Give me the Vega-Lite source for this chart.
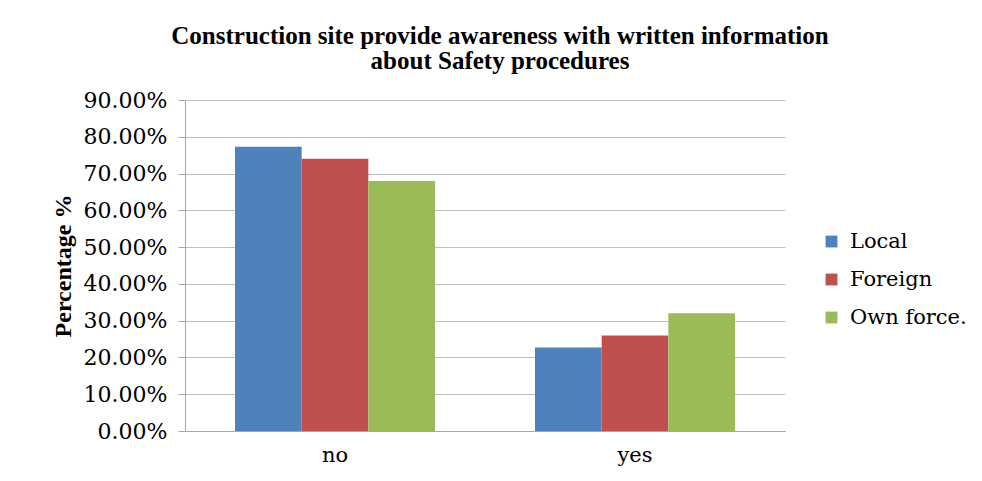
{
  "$schema": "https://vega.github.io/schema/vega-lite/v6.json",
  "autosize": {"type": "none"},
  "width": 600,
  "height": 331,
  "padding": {"left": 185, "top": 100, "right": 197, "bottom": 50},
  "background": "white",
  "title": {
    "text": ["Construction site provide awareness with written information", "about Safety procedures"],
    "font": "Liberation Serif",
    "fontSize": 25,
    "fontWeight": "bold",
    "color": "black",
    "lineHeight": 25,
    "anchor": "middle",
    "offset": 15,
    "dx": 15
  },
  "data": {
    "values": [
      {"answer": "no", "group": "Local", "value": 0.773},
      {"answer": "no", "group": "Foreign", "value": 0.74},
      {"answer": "no", "group": "Own force.", "value": 0.68},
      {"answer": "yes", "group": "Local", "value": 0.227},
      {"answer": "yes", "group": "Foreign", "value": 0.26},
      {"answer": "yes", "group": "Own force.", "value": 0.32}
    ]
  },
  "mark": {"type": "bar"},
  "encoding": {
    "x": {
      "field": "answer",
      "type": "nominal",
      "scale": {"paddingInner": 0.3333, "paddingOuter": 0.1667},
      "axis": {
        "title": null,
        "labelAngle": 0,
        "labelFont": "DejaVu Serif",
        "labelFontSize": 21,
        "labelColor": "black",
        "labelPadding": 13,
        "domainColor": "#a6a6a6",
        "ticks": false
      }
    },
    "xOffset": {"field": "group", "sort": ["Local", "Foreign", "Own force."], "scale": {"paddingInner": 0, "paddingOuter": 0}},
    "y": {
      "field": "value",
      "type": "quantitative",
      "scale": {"domain": [0, 0.9]},
      "axis": {
        "title": "Percentage %",
        "titleFont": "Liberation Serif",
        "titleFontSize": 24,
        "titleFontWeight": "bold",
        "titleColor": "black",
        "titlePadding": 8,
        "format": ".2%",
        "values": [0, 0.1, 0.2, 0.3, 0.4, 0.5, 0.6, 0.7, 0.8, 0.9],
        "labelFont": "DejaVu Serif",
        "labelFontSize": 22,
        "labelColor": "black",
        "labelPadding": 11,
        "tickSize": 7,
        "tickColor": "#a6a6a6",
        "domainColor": "#a6a6a6",
        "gridColor": "#bfbfbf",
        "gridWidth": 1
      }
    },
    "color": {
      "field": "group",
      "type": "nominal",
      "sort": ["Local", "Foreign", "Own force."],
      "scale": {"domain": ["Local", "Foreign", "Own force."], "range": ["#4F81BD", "#C0504D", "#9BBB59"]},
      "legend": {
        "title": null,
        "orient": "none",
        "legendX": 636,
        "legendY": 131,
        "symbolType": "square",
        "symbolSize": 140,
        "symbolStrokeWidth": 0,
        "labelFont": "DejaVu Serif",
        "labelFontSize": 21,
        "labelColor": "black",
        "rowPadding": 16,
        "labelOffset": 8
      }
    }
  },
  "config": {
    "view": {"stroke": null}
  }
}
